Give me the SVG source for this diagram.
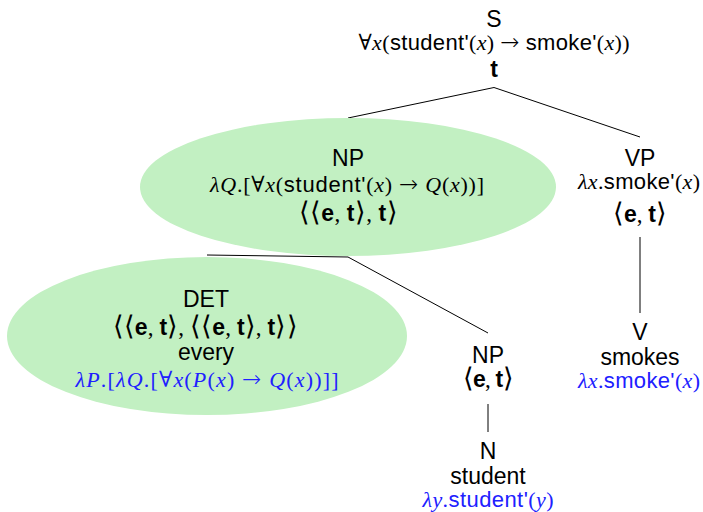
<svg xmlns="http://www.w3.org/2000/svg" width="703" height="512" viewBox="0 0 703 512">
<style>
.lbl{font-family:"Liberation Sans",Arial,sans-serif;font-size:23px;fill:#000;text-anchor:middle}
.f{font-family:"Liberation Sans",Arial,sans-serif;font-size:22px;fill:#000;text-anchor:middle}
.ty{font-family:"Liberation Serif","DejaVu Serif",serif;font-size:23px;fill:#000;text-anchor:middle}
.i{font-family:"Liberation Serif","DejaVu Serif",serif;font-style:italic}
.r{font-family:"Liberation Serif","DejaVu Serif",serif}
.ar{font-family:"DejaVu Sans",sans-serif;font-size:23px;font-weight:200}
.ab{font-family:"DejaVu Sans",sans-serif;font-size:27px;font-weight:200}
.b{font-family:"Liberation Sans",Arial,sans-serif;font-weight:bold}
.blue{fill:#2020ff}
.edge{stroke:#000;stroke-width:1;fill:none}
.hl{fill:#c2f0c2}
</style>
<g id="connectors">
<path class="edge" d="M348,118 L494,87.5 L640,137"/>
<path class="edge" d="M207,255 L348,257 L488,333"/>
<path class="edge" d="M640,237 L640,313"/>
<path class="edge" d="M488,404 L488,432"/>
</g>
<g id="node-S">
<text class="lbl" x="494" y="27">S</text>
<text class="f" x="494" y="50" textLength="271" lengthAdjust="spacing"><tspan class="r">∀</tspan><tspan class="i">x</tspan><tspan class="r">(</tspan>student'<tspan class="r">(</tspan><tspan class="i">x</tspan><tspan class="r">) </tspan><tspan class="ar">→</tspan><tspan class="r"> </tspan>smoke'<tspan class="r">(</tspan><tspan class="i">x</tspan><tspan class="r">))</tspan></text>
<text class="ty" x="494" y="77"><tspan class="b">t</tspan></text>
</g>
<g id="node-NP">
<ellipse class="hl" cx="348" cy="187" rx="208" ry="69"/>
<text class="lbl" x="348" y="166">NP</text>
<text class="f" x="347" y="192" textLength="274" lengthAdjust="spacing"><tspan class="i">λQ</tspan><tspan class="r">.[∀</tspan><tspan class="i">x</tspan><tspan class="r">(</tspan>student'<tspan class="r">(</tspan><tspan class="i">x</tspan><tspan class="r">) </tspan><tspan class="ar">→</tspan><tspan class="r"> </tspan><tspan class="i">Q</tspan><tspan class="r">(</tspan><tspan class="i">x</tspan><tspan class="r">))]</tspan></text>
<text class="ty" x="348" y="221" textLength="99" lengthAdjust="spacing"><tspan class="ab">⟨⟨</tspan><tspan class="b">e</tspan>, <tspan class="b">t</tspan><tspan class="ab">⟩</tspan>, <tspan class="b">t</tspan><tspan class="ab">⟩</tspan></text>
</g>
<g id="node-VP">
<text class="lbl" x="640" y="166">VP</text>
<text class="f" x="639" y="189" textLength="122" lengthAdjust="spacing"><tspan class="i">λx</tspan><tspan class="r">.</tspan>smoke'<tspan class="r">(</tspan><tspan class="i">x</tspan><tspan class="r">)</tspan></text>
<text class="ty" x="640" y="222" textLength="54" lengthAdjust="spacing"><tspan class="ab">⟨</tspan><tspan class="b">e</tspan>, <tspan class="b">t</tspan><tspan class="ab">⟩</tspan></text>
</g>
<g id="node-DET">
<ellipse class="hl" cx="207" cy="336" rx="200" ry="79"/>
<text class="lbl" x="206" y="307">DET</text>
<text class="ty" x="205" y="335" textLength="185" lengthAdjust="spacing"><tspan class="ab">⟨⟨</tspan><tspan class="b">e</tspan>, <tspan class="b">t</tspan><tspan class="ab">⟩</tspan>, <tspan class="ab">⟨⟨</tspan><tspan class="b">e</tspan>, <tspan class="b">t</tspan><tspan class="ab">⟩</tspan>, <tspan class="b">t</tspan><tspan class="ab">⟩⟩</tspan></text>
<text class="lbl" x="206" y="360">every</text>
<text class="f blue" x="207" y="387" textLength="263" lengthAdjust="spacing"><tspan class="i">λP</tspan><tspan class="r">.[</tspan><tspan class="i">λQ</tspan><tspan class="r">.[∀</tspan><tspan class="i">x</tspan><tspan class="r">(</tspan><tspan class="i">P</tspan><tspan class="r">(</tspan><tspan class="i">x</tspan><tspan class="r">) </tspan><tspan class="ar">→</tspan><tspan class="r"> </tspan><tspan class="i">Q</tspan><tspan class="r">(</tspan><tspan class="i">x</tspan><tspan class="r">))]]</tspan></text>
</g>
<g id="node-NP2">
<text class="lbl" x="488" y="363">NP</text>
<text class="ty" x="488" y="387" textLength="51" lengthAdjust="spacing"><tspan class="ab">⟨</tspan><tspan class="b">e</tspan>, <tspan class="b">t</tspan><tspan class="ab">⟩</tspan></text>
</g>
<g id="node-V">
<text class="lbl" x="640" y="340">V</text>
<text class="lbl" x="640" y="365">smokes</text>
<text class="f blue" x="639" y="388" textLength="122" lengthAdjust="spacing"><tspan class="i">λx</tspan><tspan class="r">.</tspan>smoke'<tspan class="r">(</tspan><tspan class="i">x</tspan><tspan class="r">)</tspan></text>
</g>
<g id="node-N">
<text class="lbl" x="488" y="459">N</text>
<text class="lbl" x="488" y="484">student</text>
<text class="f blue" x="488" y="507" textLength="131" lengthAdjust="spacing"><tspan class="i">λy</tspan><tspan class="r">.</tspan>student'<tspan class="r">(</tspan><tspan class="i">y</tspan><tspan class="r">)</tspan></text>
</g>
</svg>
